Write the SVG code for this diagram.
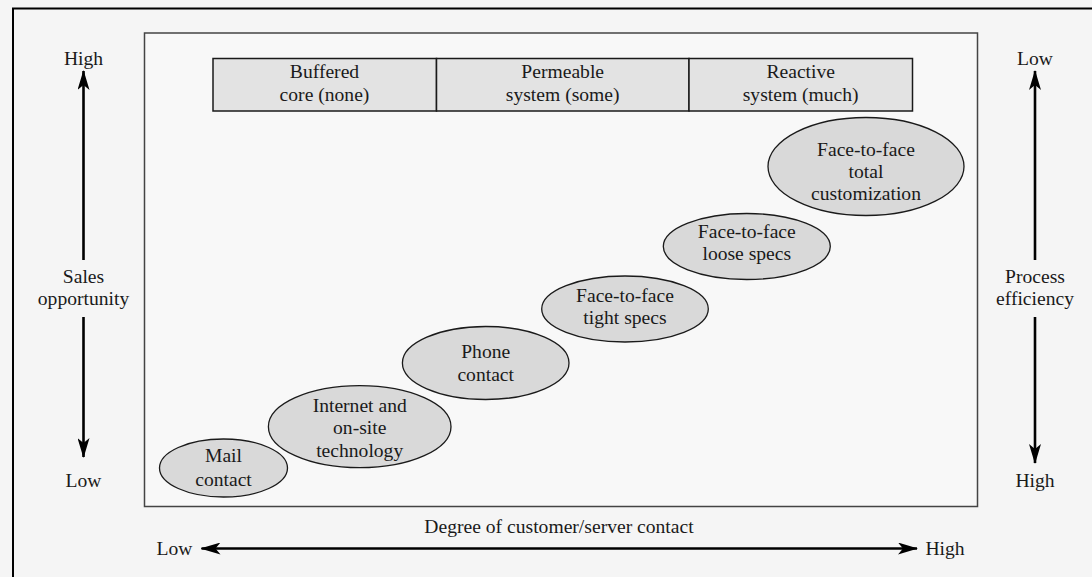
<svg xmlns="http://www.w3.org/2000/svg" width="1092" height="577" viewBox="0 0 1092 577">
<style>
text{font-family:"Liberation Serif","Times New Roman",serif;font-size:19.6px;fill:#1a1a1a;text-anchor:middle}
.ell{fill:#d9d9d9;stroke:#1a1a1a;stroke-width:1.3}
.hdr{fill:#e3e3e3;stroke:#1a1a1a;stroke-width:1.5}
.arr{stroke:#000;stroke-width:2.6;fill:none}
</style>
<defs>
<marker id="ah" viewBox="0 0 20 12" refX="19" refY="6" markerWidth="20" markerHeight="12" markerUnits="userSpaceOnUse" orient="auto">
<path d="M0,0 L20,6 L0,12 L5,6 Z" fill="#000"/>
</marker>
</defs>
<rect x="0" y="0" width="1092" height="577" fill="#f5f5f5"/>
<path d="M13,578 L13,8.5 L1092,8.5" fill="none" stroke="#000" stroke-width="2"/>
<rect x="144.5" y="33" width="833" height="473.5" fill="#f8f8f8" stroke="#444" stroke-width="1.5"/>

<g id="header">
<rect class="hdr" x="213" y="58.5" width="223.5" height="52.5"/>
<rect class="hdr" x="436.5" y="58.5" width="252.5" height="52.5"/>
<rect class="hdr" x="689" y="58.5" width="223.5" height="52.5"/>
<text x="324.5" y="78">Buffered</text>
<text x="324.5" y="101">core (none)</text>
<text x="562.7" y="78">Permeable</text>
<text x="562.7" y="101">system (some)</text>
<text x="800.7" y="78">Reactive</text>
<text x="800.7" y="101">system (much)</text>
</g>

<g id="mail">
<ellipse class="ell" cx="223.5" cy="468" rx="64" ry="29"/>
<text x="223.5" y="461.5">Mail</text>
<text x="223.5" y="486">contact</text>
</g>
<g id="internet">
<ellipse class="ell" cx="359.7" cy="426.7" rx="91.3" ry="41"/>
<text x="359.7" y="411.5">Internet and</text>
<text x="359.7" y="434">on-site</text>
<text x="359.7" y="456.5">technology</text>
</g>
<g id="phone">
<ellipse class="ell" cx="485.7" cy="363" rx="83.3" ry="36.5"/>
<text x="485.7" y="358">Phone</text>
<text x="485.7" y="380.5">contact</text>
</g>
<g id="tight">
<ellipse class="ell" cx="625" cy="309" rx="83.3" ry="33"/>
<text x="625" y="301.5">Face-to-face</text>
<text x="625" y="323.5">tight specs</text>
</g>
<g id="loose">
<ellipse class="ell" cx="746.8" cy="246.5" rx="83.5" ry="33"/>
<text x="746.8" y="237.5">Face-to-face</text>
<text x="746.8" y="260">loose specs</text>
</g>
<g id="total">
<ellipse class="ell" cx="866" cy="166.5" rx="98" ry="49"/>
<text x="866" y="156">Face-to-face</text>
<text x="866" y="178">total</text>
<text x="866" y="200">customization</text>
</g>

<g id="sales-axis">
<text x="83.5" y="65">High</text>
<text x="83.5" y="283">Sales</text>
<text x="83.5" y="305">opportunity</text>
<text x="83.5" y="487">Low</text>
</g>
<g id="efficiency-axis">
<text x="1035" y="65">Low</text>
<text x="1035" y="283">Process</text>
<text x="1035" y="305">efficiency</text>
<text x="1035" y="487">High</text>
</g>
<g id="contact-axis">
<text x="559" y="533">Degree of customer/server contact</text>
<text x="174.5" y="555">Low</text>
<text x="945" y="555">High</text>
</g>

<g id="connectors">
<line class="arr" x1="83.5" y1="260" x2="83.5" y2="71" marker-end="url(#ah)"/>
<line class="arr" x1="83.5" y1="317" x2="83.5" y2="457" marker-end="url(#ah)"/>
<line class="arr" x1="1035" y1="260" x2="1035" y2="71" marker-end="url(#ah)"/>
<line class="arr" x1="1035" y1="317" x2="1035" y2="463" marker-end="url(#ah)"/>
<line class="arr" x1="560" y1="548.5" x2="201.5" y2="548.5" marker-end="url(#ah)"/>
<line class="arr" x1="560" y1="548.5" x2="917" y2="548.5" marker-end="url(#ah)"/>
</g>
</svg>
